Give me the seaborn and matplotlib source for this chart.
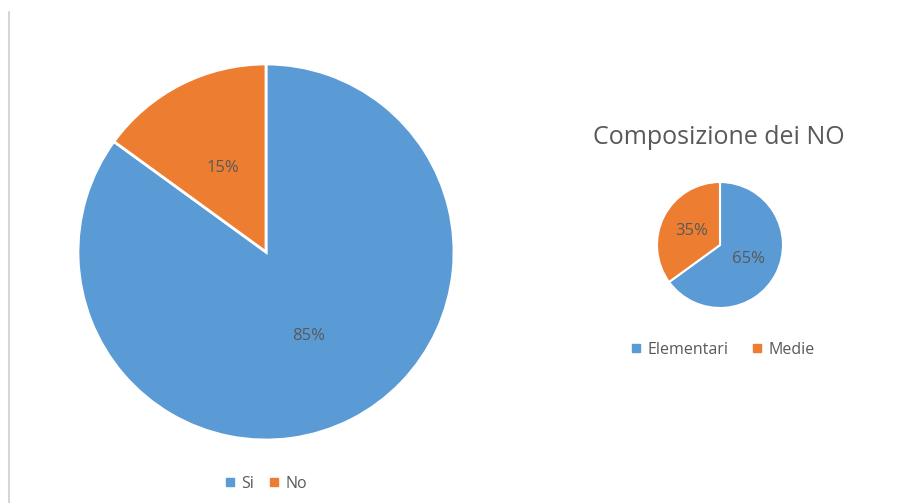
import matplotlib
matplotlib.use("Agg")
import matplotlib.pyplot as plt
from matplotlib.lines import Line2D
import seaborn as sns

# Survey answers and breakdown of the "No" group
main_labels = ["Si", "No"]
main_values = [85, 15]

no_title = "Composizione dei NO"
no_labels = ["Elementari", "Medie"]
no_values = [65, 35]

sns.set_theme(style="white")
plt.rcParams["font.family"] = ["Open Sans", "DejaVu Sans"]

palette = ["#5B9BD5", "#ED7D31"]
text_gray = "#595959"

W, H = 919, 503
fig = plt.figure(figsize=(W / 100, H / 100), dpi=100)
fig.patch.set_facecolor("white")


def px_axes(cx, cy, r):
    """Square axes centred on pixel (cx, cy) with radius r in pixels."""
    return fig.add_axes([(cx - r) / W, 1 - (cy + r) / H, 2 * r / W, 2 * r / H])


def draw_pie(ax, values, edge_w, fs):
    wedges, _, autotexts = ax.pie(
        values,
        colors=palette,
        startangle=90,
        counterclock=False,
        radius=1.0,
        autopct=lambda p: f"{p:.0f}%",
        pctdistance=0.5,
        wedgeprops=dict(edgecolor="white", linewidth=edge_w),
        textprops=dict(color=text_gray, fontsize=fs),
    )
    ax.set_xlim(-1.0, 1.0)
    ax.set_ylim(-1.0, 1.0)
    ax.set_aspect("equal")
    ax.axis("off")
    return wedges


# Large pie: Si / No
ax1 = px_axes(266, 252, 188)
draw_pie(ax1, main_values, 2.0, 12)

# Small pie: composition of the "No" answers
ax2 = px_axes(720, 245, 63)
draw_pie(ax2, no_values, 1.5, 12)

fig.text(719 / W, 1 - 138 / H, no_title, ha="center", va="center",
         fontsize=18, color=text_gray)


def legend_handles(labels):
    return [Line2D([0], [0], marker="s", linestyle="none", markersize=6,
                   markerfacecolor=c, markeredgecolor=c) for c in palette[:len(labels)]]


fig.legend(legend_handles(main_labels), main_labels, loc="center",
           bbox_to_anchor=(266 / W, 1 - 484 / H), ncol=2, frameon=False,
           fontsize=11.5, labelcolor=text_gray, handlelength=0.6,
           handletextpad=0.4, columnspacing=1.0)

fig.legend(legend_handles(no_labels), no_labels, loc="center",
           bbox_to_anchor=(723 / W, 1 - 350 / H), ncol=2, frameon=False,
           fontsize=11.5, labelcolor=text_gray, handlelength=0.6,
           handletextpad=0.4, columnspacing=1.5)

# Thin grey frame edge on the left
fig.add_artist(Line2D([8.5 / W, 8.5 / W], [0, 1 - 12 / H],
                      transform=fig.transFigure, color="#d6d6d6", linewidth=1.5))

fig.savefig("out.png", dpi=100, facecolor="white")
